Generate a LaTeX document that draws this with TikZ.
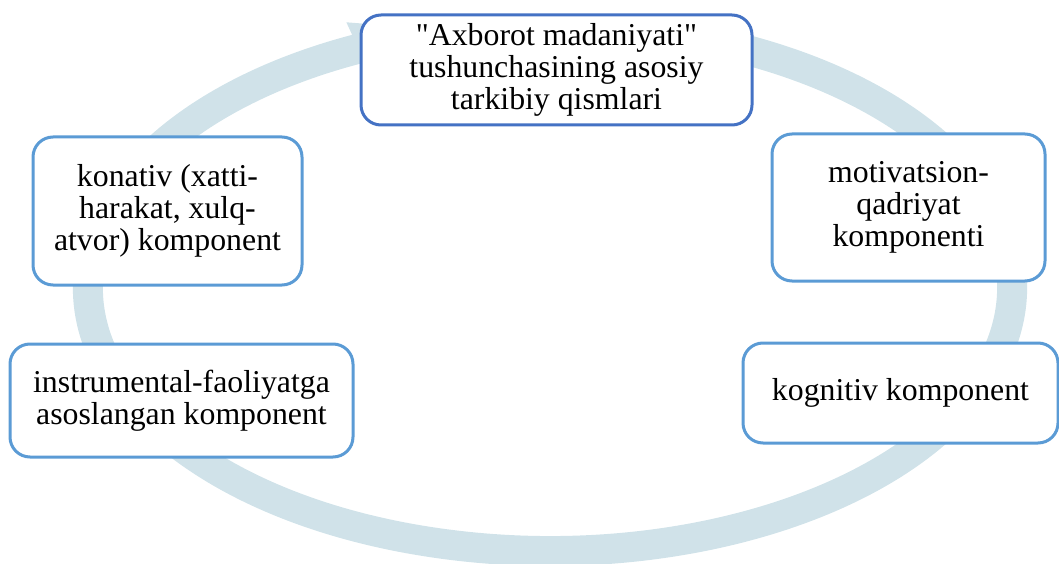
\documentclass[tikz,border=0pt]{standalone}
\usepackage{fontspec}
\setmainfont{Liberation Serif}
\definecolor{ringblue}{RGB}{208,226,233}
\definecolor{darkedge}{RGB}{68,114,196}
\definecolor{lightedge}{RGB}{91,155,213}
\begin{document}
\begin{tikzpicture}[x=1pt,y=-1pt,
    comp/.style={draw=lightedge,line width=3pt,rounded corners=20pt,fill=white,
      align=center,inner sep=0pt,font=\fontsize{31.8}{32}\selectfont}]
  \useasboundingbox (0,0) rectangle (1059,564);
  \draw[ringblue,line width=30pt] (550,288) ++(-75:462 and 263)
    arc[start angle=-75,end angle=246.5,x radius=462,y radius=263];
  \fill[ringblue,shift={(550,288)}] (245.5:491 and 292) -- (258:462 and 263)
    -- (245.5:433 and 234) -- cycle;

  \node[comp,draw=darkedge,minimum width=391pt,minimum height=110pt] (topic) at (556.5,70)
    {\textquotedbl Axborot madaniyati\textquotedbl\\tushunchasining asosiy\\tarkibiy qismlari};
  \node[comp,minimum width=273pt,minimum height=147pt] (motiv) at (908.5,207.5)
    {motivatsion-\\qadriyat\\komponenti};
  \node[comp,minimum width=315pt,minimum height=100pt] (kogn) at (900.5,393)
    {kognitiv komponent};
  \node[comp,minimum width=343pt,minimum height=113pt] (instr) at (181.5,400.5)
    {instrumental-faoliyatga\\asoslangan komponent};
  \node[comp,minimum width=269pt,minimum height=148pt] (konat) at (167.5,211)
    {konativ (xatti-\\harakat, xulq-\\atvor) komponent};
\end{tikzpicture}
\end{document}
